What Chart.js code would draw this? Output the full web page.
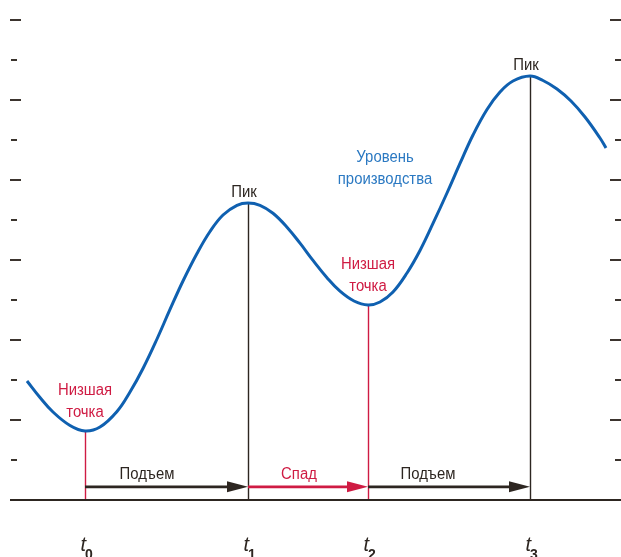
<!DOCTYPE html>
<html lang="ru">
<head>
<meta charset="utf-8">
<title>Деловой цикл</title>
<script src="https://cdn.jsdelivr.net/npm/chart.js@4/dist/chart.umd.min.js"></script>
<style>
  html, body { margin: 0; padding: 0; background: #ffffff; }
  #wrap { position: relative; width: 621px; height: 557px; }
</style>
</head>
<body>
<div id="wrap"><canvas id="cycle"></canvas></div>
<script>
// Production level over time (time units on x, level units on y; one tick = 1 level unit)
const timeValues = [2.7, 4.0, 5.3, 7.0, 8.5, 10.0, 11.7, 13.0, 14.3, 15.7, 17.0, 18.3, 19.7, 21.0,
  22.3, 23.7, 24.8, 26.0, 27.3, 28.7, 30.0, 31.3, 32.7, 34.0, 35.4, 36.8, 38.0, 39.3, 40.7, 42.0,
  43.3, 44.7, 46.0, 47.3, 48.7, 50.0, 51.3, 53.0, 54.3, 55.7, 57.1, 58.5, 60.0, 60.6];
const productionLevel = [2.975, 2.563, 2.2, 1.863, 1.725, 1.825, 2.213, 2.7, 3.288, 4.025, 4.763,
  5.475, 6.163, 6.713, 7.125, 7.368, 7.425, 7.368, 7.168, 6.82, 6.42, 5.99, 5.558, 5.22, 4.975,
  4.875, 4.95, 5.2, 5.675, 6.238, 6.913, 7.675, 8.413, 9.125, 9.763, 10.2, 10.475, 10.6, 10.488,
  10.275, 9.975, 9.575, 9.05, 8.8];

// Turning points of the cycle
const turnTimes = [8.5, 24.8, 36.8, 53.0];
const turnLevels = [1.725, 7.425, 4.875, 10.6];
const turnKinds = ['trough', 'peak', 'trough', 'peak'];
const turnNames = ['t', 't', 't', 't'];
const turnIndex = ['0', '1', '2', '3'];

// Phases between turning points
const phaseNames = ['Подъем', 'Спад', 'Подъем'];
const phaseKinds = ['rise', 'fall', 'rise'];
const phaseLabelTimes = [14.7, 29.9, 42.8];
const phaseArrowLevel = 0.33;

// Axis tick levels
const tickLevels = [1, 2, 3, 4, 5, 6, 7, 8, 9, 10, 11, 12];

const seriesLabel = ['Уровень', 'производства'];
const seriesLabelTime = 38.5;
const seriesLabelLevels = [8.55, 8.0];
const peakLabel = 'Пик';
const troughLabel = ['Низшая', 'точка'];

const DARK = '#2d2621';
const TICK = '#3b342e';
const RED = '#cf1b43';
const BLUE = '#0f60b0';
const BLUE_TEXT = '#2b79c2';
const FONT = '"Liberation Sans", Arial, sans-serif';

const cyclePoints = timeValues.map((t, i) => ({ x: t, y: productionLevel[i] }));

// slightly condensed caption text
function caption(ctx, text, x, y) {
  ctx.save();
  ctx.translate(x, y);
  ctx.scale(0.93, 1);
  ctx.fillText(text, 0, 0);
  ctx.restore();
}

const decorations = {
  id: 'cycleDecorations',
  beforeDatasetsDraw(chart) {
    const { ctx } = chart;
    const xs = chart.scales.x, ys = chart.scales.y;
    const y0 = ys.getPixelForValue(0);
    ctx.save();

    // side ticks, longer on even levels
    ctx.strokeStyle = TICK;
    ctx.lineWidth = 2;
    tickLevels.forEach(v => {
      const py = Math.round(ys.getPixelForValue(v));
      const major = v % 2 === 0;
      ctx.beginPath();
      ctx.moveTo(major ? 10 : 11, py);
      ctx.lineTo(major ? 21 : 17, py);
      ctx.moveTo(major ? 610 : 615, py);
      ctx.lineTo(621, py);
      ctx.stroke();
    });

    // vertical drop lines from turning points
    turnTimes.forEach((t, i) => {
      const px = Math.round(xs.getPixelForValue(t)) + 0.5;
      ctx.strokeStyle = turnKinds[i] === 'trough' ? RED : DARK;
      ctx.lineWidth = 1.4;
      ctx.beginPath();
      ctx.moveTo(px, ys.getPixelForValue(turnLevels[i]));
      ctx.lineTo(px, y0);
      ctx.stroke();
    });

    // phase arrows
    const ay = ys.getPixelForValue(phaseArrowLevel);
    phaseNames.forEach((name, i) => {
      const xa = xs.getPixelForValue(turnTimes[i]);
      const xb = xs.getPixelForValue(turnTimes[i + 1]);
      const col = phaseKinds[i] === 'fall' ? RED : DARK;
      ctx.strokeStyle = col;
      ctx.fillStyle = col;
      ctx.lineWidth = 2.8;
      ctx.beginPath();
      ctx.moveTo(xa, ay);
      ctx.lineTo(xb - 14, ay);
      ctx.stroke();
      ctx.beginPath();
      ctx.moveTo(xb, ay);
      ctx.lineTo(xb - 21, ay - 5.5);
      ctx.lineTo(xb - 21, ay + 5.5);
      ctx.closePath();
      ctx.fill();
      ctx.font = '16px ' + FONT;
      ctx.textAlign = 'center';
      ctx.textBaseline = 'alphabetic';
      caption(ctx, name, xs.getPixelForValue(phaseLabelTimes[i]), ay - 8);
    });

    // baseline
    ctx.strokeStyle = DARK;
    ctx.lineWidth = 2;
    ctx.beginPath();
    ctx.moveTo(10, y0);
    ctx.lineTo(621, y0);
    ctx.stroke();

    // turning point captions and time labels
    turnTimes.forEach((t, i) => {
      const px = xs.getPixelForValue(t);
      const py = ys.getPixelForValue(turnLevels[i]);
      ctx.textAlign = 'center';
      ctx.textBaseline = 'middle';
      ctx.font = '16px ' + FONT;
      if (turnKinds[i] === 'peak') {
        ctx.fillStyle = DARK;
        caption(ctx, peakLabel, px - 4, py - 10);
      } else {
        ctx.fillStyle = RED;
        caption(ctx, troughLabel[0], px, py - 40);
        caption(ctx, troughLabel[1], px, py - 18);
      }
      ctx.fillStyle = DARK;
      ctx.textBaseline = 'alphabetic';
      ctx.font = 'italic 20px ' + FONT;
      ctx.textAlign = 'right';
      ctx.fillText(turnNames[i], px + 1, y0 + 51);
      ctx.font = 'bold 14px ' + FONT;
      ctx.textAlign = 'left';
      ctx.fillText(turnIndex[i], px, y0 + 59);
    });

    // series caption
    const cx = xs.getPixelForValue(seriesLabelTime);
    ctx.fillStyle = BLUE_TEXT;
    ctx.font = '16px ' + FONT;
    ctx.textAlign = 'center';
    ctx.textBaseline = 'middle';
    caption(ctx, seriesLabel[0], cx, ys.getPixelForValue(seriesLabelLevels[0]));
    caption(ctx, seriesLabel[1], cx, ys.getPixelForValue(seriesLabelLevels[1]));

    ctx.restore();
  }
};

new Chart(document.getElementById('cycle'), {
  type: 'line',
  data: {
    datasets: [{
      label: seriesLabel.join(' '),
      data: cyclePoints,
      borderColor: BLUE,
      borderWidth: 3,
      pointRadius: 0,
      tension: 0.4,
      fill: false,
      clip: false
    }]
  },
  options: {
    responsive: true,
    maintainAspectRatio: false,
    animation: false,
    layout: { padding: { top: 0, left: 0, right: 0, bottom: 57 } },
    scales: {
      x: { type: 'linear', min: 0, max: 62.1, display: false },
      y: { type: 'linear', min: 0, max: 12.5, display: false }
    },
    plugins: { legend: { display: false }, tooltip: { enabled: false } }
  },
  plugins: [decorations]
});
</script>
</body>
</html>
